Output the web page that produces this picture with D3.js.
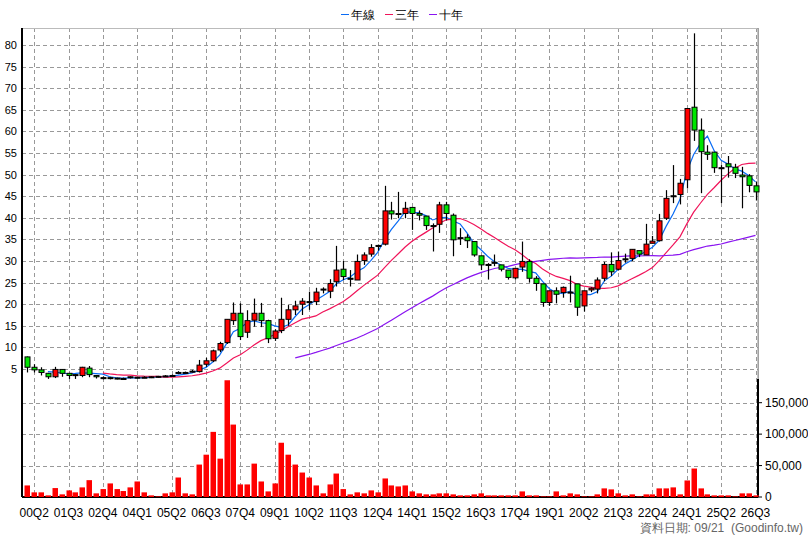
<!DOCTYPE html>
<html>
<head>
<meta charset="utf-8">
<script src="https://cdn.jsdelivr.net/npm/d3@7"></script>
<style>
  body { margin: 0; background: #fff; }
  svg { font-family: "Liberation Sans", Arial, sans-serif; }
</style>
</head>
<body>
<svg id="chart" width="808" height="540"></svg>
<script>
// quarterly OHLC, 00Q1 .. 26Q3
const opens = [7.8,5.4,4.8,4.0,3.2,4.9,4.0,3.7,3.5,5.2,3.5,3.0,3.0,2.9,2.8,3.0,3.1,3.1,3.1,3.2,
  3.3,3.4,4.1,4.2,4.4,4.4,6.1,6.9,9.4,11.1,16.2,17.9,13.5,16.3,17.9,16.2,12.1,13.9,16.5,18.7,
  20.0,20.6,20.6,23.5,23.0,25.2,28.1,26.0,25.6,30.1,31.6,33.6,33.9,41.6,41.0,41.0,42.4,41.0,40.4,38.2,
  38.5,43.0,40.6,35.4,35.5,34.5,31.2,29.2,29.7,29.1,27.9,26.1,28.6,29.9,26.0,24.7,20.4,23.1,22.7,22.8,
  24.7,19.6,23.3,23.5,26.0,29.2,28.1,30.5,30.6,32.4,31.4,34.1,34.7,39.9,45.1,45.4,48.8,65.6,60.3,55.2,
  55.2,51.6,52.5,51.7,49.9,49.7,47.4];
const highs = [7.9,6.1,5.4,4.1,5.5,5.0,4.1,3.8,5.5,5.7,3.6,3.3,3.2,3.0,3.0,3.3,3.2,3.3,3.3,3.4,
  3.6,3.7,4.5,4.4,4.8,7.1,7.6,9.5,11.3,16.5,20.4,20.2,18.6,21.3,20.3,16.4,14.2,21.5,19.8,20.8,
  21.4,22.9,23.8,23.9,25.8,33.5,30.0,27.9,31.5,32.0,33.9,33.8,47.4,43.7,46.0,43.7,42.4,41.7,40.4,38.7,
  43.7,43.7,41.0,37.6,36.2,34.5,31.2,29.5,31.5,29.1,27.9,28.3,34.5,30.4,26.5,24.7,23.1,23.9,24.1,26.6,
  24.7,23.1,23.9,26.2,29.8,32.0,32.2,31.7,32.7,32.4,38.6,35.8,40.9,46.4,52.2,49.0,65.3,82.7,63.0,56.8,
  55.2,52.2,54.3,52.5,51.8,50.1,48.4];
const lows = [4.2,4.2,3.5,2.7,2.9,3.2,2.7,2.7,3.1,3.1,2.8,2.6,2.6,2.6,2.6,2.8,2.8,2.9,2.9,3.0,
  3.2,3.3,3.8,3.9,4.2,4.2,5.5,6.6,8.9,10.8,15.2,11.7,12.2,14.8,14.7,11.0,11.5,13.3,15.0,17.5,
  17.5,18.7,19.8,22.5,21.4,24.1,25.6,24.1,25.6,29.1,31.0,32.4,33.6,39.6,39.9,39.9,37.2,39.4,37.2,32.2,
  36.5,39.4,31.1,33.7,33.0,31.0,27.9,25.7,28.8,27.6,25.7,25.7,27.5,25.0,23.1,19.4,19.6,20.2,21.5,20.4,
  17.3,18.3,22.8,22.5,25.3,26.5,27.8,29.6,30.0,30.9,31.4,34.1,34.5,39.5,43.4,43.1,46.8,57.8,45.7,53.4,
  50.4,43.4,49.3,49.2,42.2,45.9,44.0];
const closes = [5.4,4.8,4.2,3.2,4.9,4.0,3.5,3.5,5.4,3.7,3.2,3.0,2.9,2.8,2.8,3.2,3.0,3.1,3.2,3.3,
  3.4,3.5,4.2,4.2,4.5,5.9,6.9,9.2,10.9,16.5,17.9,12.5,16.2,17.9,16.2,12.0,13.8,16.5,18.7,19.6,
  20.7,20.6,22.8,23.5,24.8,27.9,26.4,26.0,29.9,31.4,33.1,33.6,41.6,40.9,41.0,42.2,41.0,40.6,38.2,38.2,
  43.0,41.0,34.9,35.4,34.7,31.4,29.1,29.2,29.7,28.1,26.2,28.3,29.9,26.0,24.8,20.4,23.1,22.3,23.9,22.8,
  19.3,23.1,23.7,25.6,29.2,27.5,30.1,30.5,32.7,31.6,33.9,34.6,39.3,44.5,45.1,48.0,65.3,60.3,55.3,54.7,
  51.6,51.6,51.8,50.3,49.5,47.5,46.0];
const volumes = [18400,7400,7400,2600,14200,4200,10500,7400,15300,26800,
  5800,12600,21600,12600,9500,15300,24700,7400,2600,1000,
  5800,7400,31000,5800,4200,51600,67300,103600,61000,185700,
  115200,20000,20000,53100,24700,8900,21600,86300,67300,51600,
  38900,31000,18400,5800,20000,37300,12600,4200,7400,5800,
  10500,7400,29500,18400,16800,18400,8900,5800,4200,4200,
  5800,5800,4200,2600,2600,4200,5800,2600,2600,2600,
  2600,2600,8900,2600,2600,1000,1000,8900,2600,5800,
  4200,1000,1000,4200,13700,12100,5800,2600,4200,1000,
  4200,4200,13700,13700,15300,4200,26300,45300,13700,4200,
  2600,2600,2600,1000,5800,5800,2600];
const tickLabels = ["00Q2","01Q3","02Q4","04Q1","05Q2","06Q3","07Q4","09Q1","10Q2","11Q3","12Q4",
  "14Q1","15Q2","16Q3","17Q4","19Q1","20Q2","21Q3","22Q4","24Q1","25Q2","26Q3"];
const priceTicks = [5,10,15,20,25,30,35,40,45,50,55,60,65,70,75,80];
const volTicks = [0,50000,100000,150000];
const maSeries = [
  { name: "年線", n: 4, color: "#0a6cf5" },
  { name: "三年", n: 12, color: "#f0145a" },
  { name: "十年", n: 40, color: "#8a14f0" }
];

const svg = d3.select("#chart");
const pLeft = 22, pRight = 758, pTop = 28, pBottom = 497, pSplit = 379;

const x = d3.scaleLinear().domain([0, closes.length - 1]).range([27.3, 755.5]);
const y = d3.scaleLinear().domain([5, 80]).range([369, 45]);
const yv = d3.scaleLinear().domain([0, 150000]).range([pBottom, 402.7]);

// grid
const grid = svg.append("g").attr("stroke", "#999").attr("stroke-dasharray", "4,3").attr("stroke-width", 1);
tickLabels.forEach((t, k) => {
  const xx = Math.round(x(1 + k * 5)) + 0.5;
  grid.append("line").attr("x1", xx).attr("x2", xx).attr("y1", pTop).attr("y2", pBottom);
});
priceTicks.forEach(p => {
  const yy = Math.round(y(p)) + 0.5;
  grid.append("line").attr("x1", pLeft).attr("x2", pRight).attr("y1", yy).attr("y2", yy);
});
volTicks.slice(1).forEach(v => {
  const yy = Math.round(yv(v)) + 0.5;
  grid.append("line").attr("x1", pLeft).attr("x2", pRight).attr("y1", yy).attr("y2", yy);
});

// frame
svg.append("rect").attr("x", pLeft + 0.5).attr("y", pTop + 0.5).attr("width", pRight - pLeft).attr("height", pBottom - pTop)
  .attr("fill", "none").attr("stroke", "#bbb");
const axisLine = (x1, y1, x2, y2) => svg.append("line")
  .attr("x1", x1).attr("y1", y1).attr("x2", x2).attr("y2", y2)
  .attr("stroke", "#000").attr("stroke-width", 2);
axisLine(pLeft, pTop, pLeft, pBottom);
axisLine(pRight, pSplit, pRight, pBottom);
axisLine(pLeft, pBottom, pRight, pBottom);
svg.append("line").attr("x1", pRight).attr("x2", pRight).attr("y1", pTop).attr("y2", pSplit).attr("stroke", "#888");

// volume bars
svg.append("g").selectAll("rect").data(volumes).join("rect")
  .attr("x", (d, i) => Math.round(x(i)) - 2.5)
  .attr("width", 5.5)
  .attr("y", d => yv(d))
  .attr("height", d => pBottom - yv(d))
  .attr("fill", "#ff0000");

// moving averages
maSeries.forEach(m => {
  const pts = [];
  for (let i = m.n - 1; i < closes.length; i++) {
    pts.push([i, d3.mean(closes.slice(i - m.n + 1, i + 1))]);
  }
  svg.append("path").datum(pts)
    .attr("fill", "none").attr("stroke", m.color).attr("stroke-width", 1.2)
    .attr("d", d3.line().x(d => x(d[0])).y(d => y(d[1])));
});

// candles
const candles = svg.append("g").selectAll("g").data(closes).join("g");
candles.append("line")
  .attr("x1", (d, i) => Math.round(x(i)) + 0.5).attr("x2", (d, i) => Math.round(x(i)) + 0.5)
  .attr("y1", (d, i) => y(highs[i])).attr("y2", (d, i) => y(lows[i]))
  .attr("stroke", "#000").attr("stroke-width", 1.2);
candles.append("rect")
  .attr("x", (d, i) => Math.round(x(i)) - 2)
  .attr("width", 5)
  .attr("y", (d, i) => y(Math.max(opens[i], d)))
  .attr("height", (d, i) => Math.max(1, Math.abs(y(opens[i]) - y(d))))
  .attr("fill", (d, i) => d > opens[i] ? "#ff0000" : d < opens[i] ? "#00e600" : "#000")
  .attr("stroke", "#000").attr("stroke-width", 1);

// axes labels
const fs = "12px";
svg.append("g").selectAll("text").data(priceTicks).join("text")
  .attr("x", 17).attr("y", d => y(d) + 4).attr("text-anchor", "end")
  .attr("font-size", "11px").text(d => d);
svg.append("g").selectAll("text").data(volTicks).join("text")
  .attr("x", 765).attr("y", d => yv(d) + 4)
  .attr("font-size", fs).text(d => d3.format(",")(d));
svg.append("g").selectAll("line").data(volTicks).join("line")
  .attr("x1", pRight).attr("x2", pRight + 4).attr("y1", d => yv(d)).attr("y2", d => yv(d)).attr("stroke", "#000");
svg.append("g").selectAll("text").data(tickLabels).join("text")
  .attr("x", (d, k) => x(1 + k * 5)).attr("y", 517).attr("text-anchor", "middle")
  .attr("font-size", fs).text(d => d);

svg.append("text").attr("x", 803).attr("y", 532).attr("text-anchor", "end")
  .attr("font-size", fs).attr("fill", "#666").attr("xml:space", "preserve")
  .text("資料日期: 09/21  (Goodinfo.tw)");

// legend
const lg = svg.append("g");
let lx = 341;
maSeries.forEach(m => {
  lg.append("line").attr("x1", lx).attr("x2", lx + 8).attr("y1", 14.5).attr("y2", 14.5).attr("stroke", m.color);
  lg.append("text").attr("x", lx + 10).attr("y", 19).attr("font-size", fs).text(m.name);
  lx += 44;
});
</script>
</body>
</html>
